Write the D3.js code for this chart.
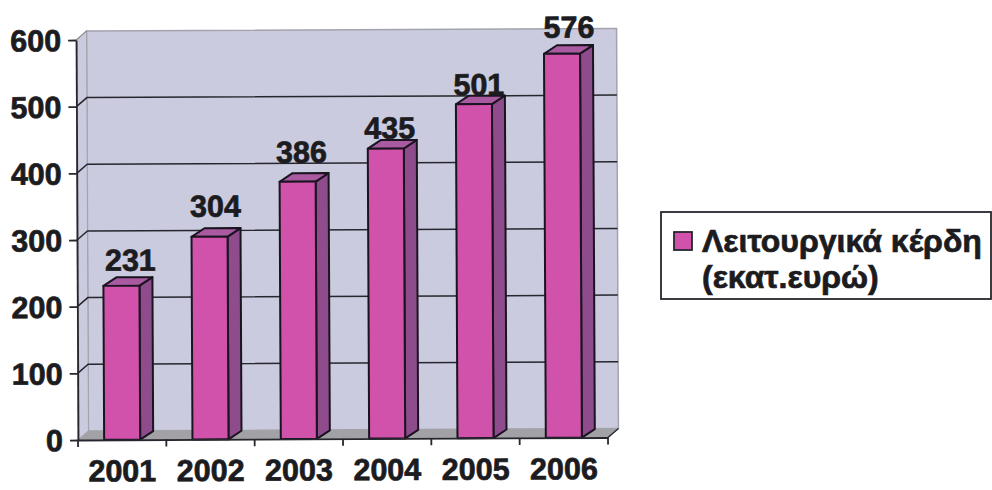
<!DOCTYPE html>
<html>
<head>
<meta charset="utf-8">
<script src="https://cdn.jsdelivr.net/npm/d3@7"></script>
<style>
  html, body { margin: 0; background: #fff; }
  svg { display: block; }
  text { font-family: "Liberation Sans", Arial, sans-serif; font-weight: bold; fill: #1b1b20; stroke: #1b1b20; stroke-width: 0.7px; }
</style>
</head>
<body>
<div id="chart"></div>
<script>
const years = ["2001", "2002", "2003", "2004", "2005", "2006"];
const profits = [231, 304, 386, 435, 501, 576];
const yTicks = [0, 100, 200, 300, 400, 500, 600];
const legendLines = ["Λειτουργικά κέρδη", "(εκατ.ευρώ)"];

// hand placed value labels: how far each one sits from its bar
const labelLift = [15, 20, 19, 10, 9, 16];
const labelShift = [9, 6, 4, 4, 5, 7];

const width = 992,
  height = 490;
const plotLeft = 78,
  plotRight = 608,
  plotBottom = 440,
  plotTop = 40;
// depth of the 3d box and of each bar
const wallDx = 10.5,
  wallDy = 9;
const barDx = 13,
  barDy = 8.5;

const x = d3
  .scaleBand()
  .domain(years)
  .range([plotLeft, plotRight])
  .paddingInner(0.592)
  .paddingOuter(0.296)
  .align(0.5);
const y = d3.scaleLinear().domain([0, 600]).range([plotBottom, plotTop]);

const svg = d3
  .select("#chart")
  .append("svg")
  .attr("width", width)
  .attr("height", height);

const plot = svg
  .append("g")
  .attr("transform", `rotate(-0.27 ${plotLeft} ${plotBottom})`);

const poly = (pts) => "M" + pts.map((p) => p.join(",")).join("L") + "Z";

// back wall, side wall and floor
plot
  .append("path")
  .attr("d", poly([
    [plotLeft + wallDx, y(600) - wallDy],
    [plotRight + wallDx, y(600) - wallDy],
    [plotRight + wallDx, y(0) - wallDy],
    [plotLeft + wallDx, y(0) - wallDy],
  ]))
  .attr("fill", "#cbcbdf")
  .attr("stroke", "#a3a3ad")
  .attr("stroke-width", 1.5);
plot
  .append("path")
  .attr("d", poly([
    [plotLeft, y(600)],
    [plotLeft + wallDx, y(600) - wallDy],
    [plotLeft + wallDx, y(0) - wallDy],
    [plotLeft, y(0)],
  ]))
  .attr("fill", "#cbcbdf")
  .attr("stroke", "#a3a3ad")
  .attr("stroke-width", 1);
plot
  .append("path")
  .attr("d", poly([
    [plotLeft, y(0)],
    [plotLeft + wallDx, y(0) - wallDy],
    [plotRight + wallDx, y(0) - wallDy],
    [plotRight, y(0)],
  ]))
  .attr("fill", "#a2a2a6");

// gridlines bend along the side wall, then run across the back
plot
  .selectAll(".grid")
  .data(yTicks.filter((d) => d > 0 && d < 600))
  .enter()
  .append("path")
  .attr("class", "grid")
  .attr("d", (d) => `M${plotLeft},${y(d)}L${plotLeft + wallDx},${y(d) - wallDy}L${plotRight + wallDx},${y(d) - wallDy}`)
  .attr("fill", "none")
  .attr("stroke", "#26262e")
  .attr("stroke-width", 1.5);

plot
  .append("path")
  .attr("d", `M${plotLeft},${y(600)}L${plotLeft + wallDx},${y(600) - wallDy}`)
  .attr("fill", "none")
  .attr("stroke", "#8d8d96")
  .attr("stroke-width", 1);

// bars: side and top faces first, front on top
const bars = plot
  .selectAll(".bar")
  .data(years.map((year, i) => ({ year, value: profits[i], i })))
  .enter()
  .append("g")
  .attr("class", "bar")
  .attr("stroke", "#1a1420")
  .attr("stroke-width", 2)
  .attr("stroke-linejoin", "round");

bars
  .append("path")
  .attr("fill", "#8f4c8c")
  .attr("d", (d) => {
    const r = x(d.year) + x.bandwidth();
    return poly([
      [r, y(d.value)],
      [r + barDx, y(d.value) - barDy],
      [r + barDx, y(0) - barDy],
      [r, y(0)],
    ]);
  });
bars
  .append("path")
  .attr("fill", "#aa5aa0")
  .attr("d", (d) => {
    const l = x(d.year);
    const r = l + x.bandwidth();
    return poly([
      [l, y(d.value)],
      [l + barDx, y(d.value) - barDy],
      [r + barDx, y(d.value) - barDy],
      [r, y(d.value)],
    ]);
  });
bars
  .append("rect")
  .attr("fill", "#d152ab")
  .attr("x", (d) => x(d.year))
  .attr("y", (d) => y(d.value))
  .attr("width", x.bandwidth())
  .attr("height", (d) => y(0) - y(d.value));

// value labels
plot
  .selectAll(".value")
  .data(profits)
  .enter()
  .append("text")
  .attr("class", "value")
  .attr("text-anchor", "middle")
  .attr("font-size", 30.5)
  .attr("x", (d, i) => x(years[i]) + x.bandwidth() / 2 + labelShift[i])
  .attr("y", (d, i) => y(d) - labelLift[i])
  .text((d) => d);

// y axis
const yAxis = plot
  .append("g")
  .attr("transform", `translate(${plotLeft},0)`)
  .call(d3.axisLeft(y).tickValues(yTicks).tickSize(8).tickPadding(7).tickSizeOuter(0));
yAxis.selectAll("line, path").attr("stroke", "#26262e").attr("stroke-width", 1.8);
yAxis.selectAll("text").attr("font-size", 30.5).attr("font-family", null).attr("dy", "0.35em");

// x axis: labels sit on the bands, ticks on the band edges
const xAxis = plot
  .append("g")
  .attr("transform", `translate(0,${plotBottom})`)
  .call(d3.axisBottom(x).tickSize(0).tickPadding(20).tickSizeOuter(0));
xAxis.select("path").attr("stroke", "#26262e").attr("stroke-width", 1.8);
xAxis.selectAll("text").attr("font-size", 30.5).attr("font-family", null);

plot
  .selectAll(".xtick")
  .data(d3.range(years.length + 1))
  .enter()
  .append("line")
  .attr("class", "xtick")
  .attr("x1", (i) => plotLeft + i * x.step())
  .attr("x2", (i) => plotLeft + i * x.step())
  .attr("y1", plotBottom)
  .attr("y2", plotBottom + 7)
  .attr("stroke", "#26262e")
  .attr("stroke-width", 1.8);

plot
  .append("line")
  .attr("x1", plotRight)
  .attr("y1", plotBottom)
  .attr("x2", plotRight + wallDx)
  .attr("y2", plotBottom - wallDy)
  .attr("stroke", "#26262e")
  .attr("stroke-width", 1.5);

// legend
const legend = svg.append("g");
legend
  .append("rect")
  .attr("x", 661)
  .attr("y", 212)
  .attr("width", 330)
  .attr("height", 87)
  .attr("fill", "#fff")
  .attr("stroke", "#26262e")
  .attr("stroke-width", 1.8);
legend
  .append("rect")
  .attr("x", 674)
  .attr("y", 232)
  .attr("width", 18)
  .attr("height", 18)
  .attr("fill", "#d152ab")
  .attr("stroke", "#26262e")
  .attr("stroke-width", 1.8);
legend
  .selectAll(".legend-line")
  .data(legendLines)
  .enter()
  .append("text")
  .attr("class", "legend-line")
  .attr("x", 702)
  .attr("y", (d, i) => 252 + i * 36)
  .attr("font-size", 32)
  .text((d) => d);
</script>
</body>
</html>
